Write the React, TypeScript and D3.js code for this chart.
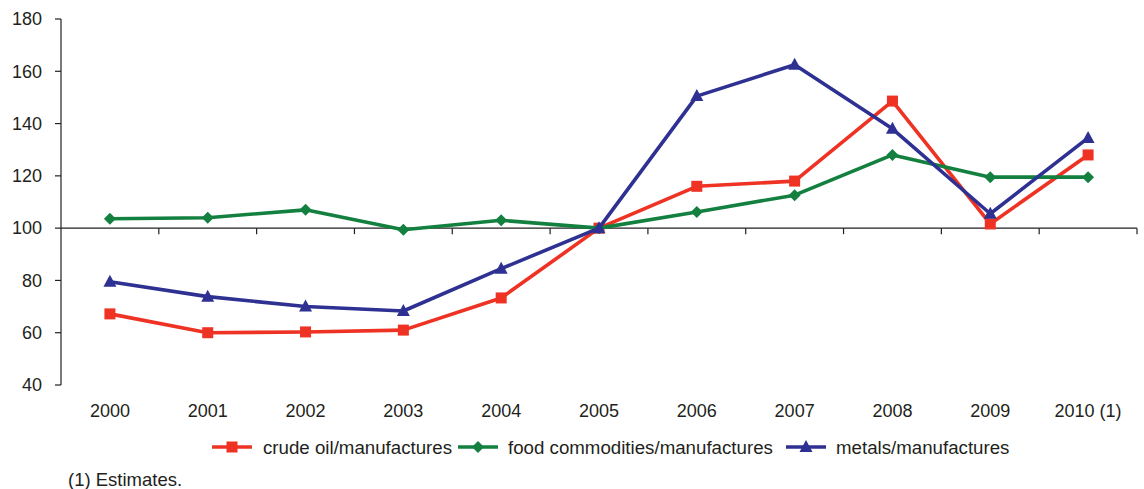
import React from "react";
import * as d3 from "d3";

const categories = ["2000", "2001", "2002", "2003", "2004", "2005", "2006", "2007", "2008", "2009", "2010 (1)"];
const crudeOil = [67.2, 60.0, 60.3, 61.0, 73.3, 100, 116, 118, 148.6, 101.6, 128];
const food = [103.6, 104, 107, 99.4, 103, 100, 106.2, 112.6, 128, 119.5, 119.5];
const metals = [79.5, 73.8, 70, 68.3, 84.5, 100, 150.5, 162.5, 138, 105.5, 134.5];
const yTicks = [40, 60, 80, 100, 120, 140, 160, 180];

const series = [
  { name: "crude oil/manufactures", values: crudeOil, color: "#EE3224", shape: "square" },
  { name: "food commodities/manufactures", values: food, color: "#13803F", shape: "diamond" },
  { name: "metals/manufactures", values: metals, color: "#2E3192", shape: "triangle" },
];

const W = 1144, H = 489;
const font = "'Liberation Sans', Arial, Helvetica, sans-serif";
const textColor = "#231F20";

function Marker({ shape, x, y, color }: { shape: string; x: number; y: number; color: string }) {
  if (shape === "square") return <rect x={x - 5.5} y={y - 5.5} width={11} height={11} fill={color} />;
  if (shape === "diamond") return <path d={`M${x},${y - 6}L${x + 6},${y}L${x},${y + 6}L${x - 6},${y}Z`} fill={color} />;
  return <path d={`M${x},${y - 7}L${x + 6.5},${y + 5}L${x - 6.5},${y + 5}Z`} fill={color} />;
}

export default function App() {
  const x = d3.scaleBand<string>().domain(categories).range([61, 1137]);
  const y = d3.scaleLinear().domain([40, 180]).range([385, 19]);
  const cx = (c: string) => (x(c) as number) + x.bandwidth() / 2;
  const line = d3.line<number>().x((_, i) => cx(categories[i])).y((v) => y(v));

  const legend = [
    { lx: 212, tx: 263 },
    { lx: 458, tx: 508 },
    { lx: 786, tx: 836 },
  ];

  return (
    <svg width={W} height={H} style={{ position: "absolute", left: 0, top: 0, background: "#fff" }} fontFamily={font}>
      <line x1={61} x2={61} y1={y(180)} y2={y(40)} stroke="#231F20" strokeWidth={1.2} />
      {yTicks.map((t) => (
        <g key={t}>
          <line x1={55} x2={61} y1={y(t)} y2={y(t)} stroke="#231F20" strokeWidth={1.2} />
          <text x={42} y={y(t)} dy="0.35em" textAnchor="end" fontSize={18} fill={textColor}>{t}</text>
        </g>
      ))}
      <line x1={61} x2={1137} y1={y(100)} y2={y(100)} stroke="#231F20" strokeWidth={1.2} />
      {categories.map((c) => (
        <line key={"t" + c} x1={(x(c) as number) + x.bandwidth()} x2={(x(c) as number) + x.bandwidth()} y1={y(100)} y2={y(100) + 6} stroke="#231F20" strokeWidth={1.2} />
      ))}
      {categories.map((c) => (
        <text key={c} x={cx(c)} y={417} textAnchor="middle" fontSize={18} fill={textColor}>{c}</text>
      ))}
      {series.map((s) => (
        <g key={s.name}>
          <path d={line(s.values) || ""} fill="none" stroke={s.color} strokeWidth={3.6} strokeLinejoin="round" />
          {s.values.map((v, i) => (
            <Marker key={i} shape={s.shape} x={cx(categories[i])} y={y(v)} color={s.color} />
          ))}
        </g>
      ))}
      {series.map((s, i) => (
        <g key={"lg" + s.name}>
          <line x1={legend[i].lx} x2={legend[i].lx + 40} y1={447} y2={447} stroke={s.color} strokeWidth={3.6} />
          <Marker shape={s.shape} x={legend[i].lx + 20} y={447} color={s.color} />
          <text x={legend[i].tx} y={447} dy="0.35em" fontSize={18.7} fill={textColor}>{s.name}</text>
        </g>
      ))}
      <text x={68} y={480} dy="0.35em" fontSize={18.5} fill={textColor}>(1) Estimates.</text>
    </svg>
  );
}
